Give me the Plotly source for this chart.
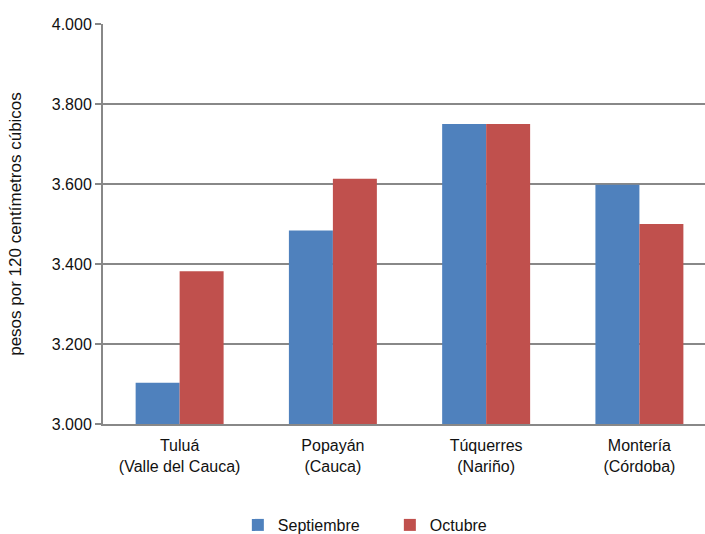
import plotly.graph_objects as go

categories = ["Tuluá<br>(Valle del Cauca)", "Popayán<br>(Cauca)", "Túquerres<br>(Nariño)", "Montería<br>(Córdoba)"]
septiembre = [3103, 3484, 3750, 3598]
octubre = [3382, 3613, 3750, 3500]
y_ticks = [3000, 3200, 3400, 3600, 3800, 4000]

FONT = "Liberation Sans, Arial, sans-serif"
GRID = "#888888"
TXT = "#111111"

fig = go.Figure()
fig.add_trace(go.Bar(name="Septiembre", x=categories, y=septiembre,
                     marker=dict(color="#4F81BD", line=dict(width=0))))
fig.add_trace(go.Bar(name="Octubre", x=categories, y=octubre,
                     marker=dict(color="#C0504D", line=dict(width=0))))

fig.update_layout(
    width=705, height=534,
    margin=dict(l=103, r=0, t=24, b=110, autoexpand=False),
    paper_bgcolor="white", plot_bgcolor="white",
    barmode="group", bargap=0.426, bargroupgap=0,
    separators=",.",
    font=dict(family=FONT, size=16, color=TXT),
    showlegend=True,
    legend=dict(orientation="h", x=0.224, xanchor="left", y=-0.21, yanchor="top",
                font=dict(family=FONT, size=16, color=TXT),
                entrywidth=107, entrywidthmode="pixels",
                bgcolor="rgba(0,0,0,0)"),
)
fig.update_xaxes(
    range=[-0.5, 3.428],
    showline=True, linecolor=GRID, linewidth=2,
    showgrid=False, ticks="", ticklabelstandoff=6,
    tickfont=dict(family=FONT, size=16, color=TXT),
)
fig.update_yaxes(
    range=[3000, 4000], tickvals=y_ticks, tickformat=",d",
    showline=True, linecolor=GRID, linewidth=2,
    showgrid=True, gridcolor=GRID, gridwidth=2,
    ticks="outside", ticklen=6, tickcolor=GRID, tickwidth=2,
    zeroline=False,
    tickfont=dict(family=FONT, size=16, color=TXT),
    title=dict(text="pesos por 120 centímetros cúbicos", standoff=26,
               font=dict(family=FONT, size=17, color=TXT)),
)

fig.write_html("out.html", config={"displayModeBar": False},
               post_script="document.body.style.margin='0';document.body.style.overflow='hidden';")
